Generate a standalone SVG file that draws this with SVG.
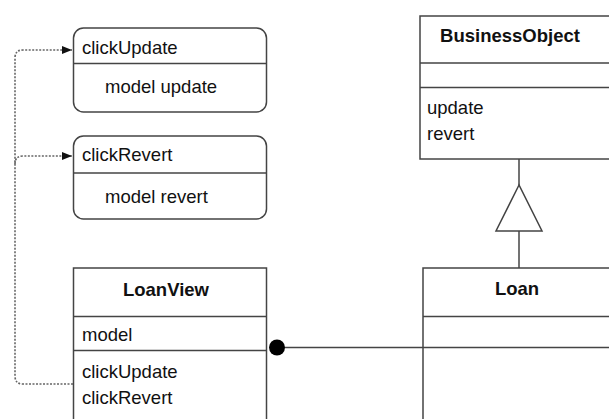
<svg xmlns="http://www.w3.org/2000/svg" width="609" height="419" viewBox="0 0 609 419">
<style>
.box{fill:#fff;stroke:#444;stroke-width:1.5}
.div{stroke:#444;stroke-width:1.5;fill:none}
.t{font-family:"Liberation Sans",Arial,sans-serif;font-size:18.5px;fill:#111}
.b{font-weight:bold;text-anchor:middle}
.dot{fill:none;stroke:#666;stroke-width:1.6;stroke-dasharray:2,1.5}
.ln{fill:none;stroke:#444;stroke-width:1.5}
</style>
<defs>
<marker id="arr" markerWidth="11" markerHeight="9" refX="10" refY="4.5" orient="auto" markerUnits="userSpaceOnUse">
<path d="M0,0.5 L10,4.5 L0,8.5 Z" fill="#111"/>
</marker>
</defs>
<rect width="609" height="419" fill="#fff"/>
<g id="connectors">
<path class="dot" d="M73,384 H23 Q15,384 15,376 V58 Q15,50 23,50 H72" marker-end="url(#arr)"/>
<path class="dot" d="M15,164 Q15,156 23,156 H72" marker-end="url(#arr)"/>
<path class="ln" d="M519,159 V185"/>
<path class="ln" d="M519,231 V268"/>
<polygon points="519,185 496,231 542,231" fill="#fff" stroke="#444" stroke-width="1.5"/>
<path class="ln" d="M277,347.5 H423"/>
<circle cx="277" cy="347.5" r="8" fill="#000"/>
</g>
<g id="clickUpdate">
<rect class="box" x="73.5" y="28" width="193" height="84" rx="10"/>
<path class="div" d="M73.5,63.5 H266.5"/>
<text class="t" x="82" y="54">clickUpdate</text>
<text class="t" x="105" y="93">model update</text>
</g>
<g id="clickRevert">
<rect class="box" x="73.5" y="136" width="193" height="83" rx="10"/>
<path class="div" d="M73.5,173 H266.5"/>
<text class="t" x="82" y="161">clickRevert</text>
<text class="t" x="105" y="203">model revert</text>
</g>
<g id="BusinessObject">
<rect class="box" x="420" y="16" width="210" height="143"/>
<path class="div" d="M420,63 H630 M420,87.5 H630"/>
<text class="t b" x="510" y="42">BusinessObject</text>
<text class="t" x="427" y="114">update</text>
<text class="t" x="427" y="140">revert</text>
</g>
<g id="LoanView">
<rect class="box" x="73.5" y="268" width="193" height="200"/>
<path class="div" d="M73.5,316.5 H266.5 M73.5,350.5 H266.5"/>
<text class="t b" x="166" y="296">LoanView</text>
<text class="t" x="82" y="341">model</text>
<text class="t" x="82" y="378">clickUpdate</text>
<text class="t" x="82" y="404">clickRevert</text>
</g>
<g id="Loan">
<rect class="box" x="423" y="268" width="250" height="200"/>
<path class="div" d="M423,316.5 H673 M423,347.5 H673"/>
<text class="t b" x="517" y="295">Loan</text>
</g>
</svg>
